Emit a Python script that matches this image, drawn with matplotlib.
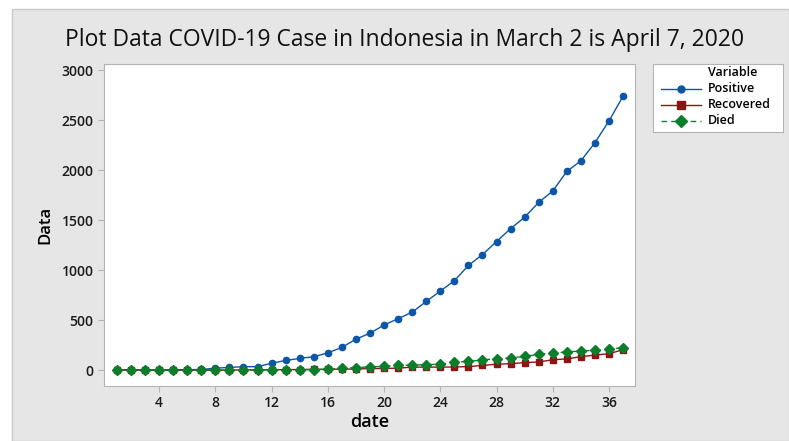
import matplotlib.pyplot as plt
from matplotlib.patches import Rectangle
from matplotlib.lines import Line2D

plt.rcParams['font.family'] = ['Open Sans', 'DejaVu Sans']

# day index, March 2 (1) to April 7 (37)
days = list(range(1, 38))
positive = [2, 2, 2, 2, 4, 4, 6, 19, 27, 34, 34, 69, 96, 117, 134, 172, 227, 309,
            369, 450, 514, 579, 686, 790, 893, 1046, 1155, 1285, 1414, 1528, 1677,
            1790, 1986, 2092, 2273, 2491, 2738]
recovered = [0, 0, 0, 0, 0, 0, 0, 0, 0, 2, 2, 3, 5, 5, 8, 8, 9, 11, 15, 16, 20, 29,
             30, 30, 31, 35, 46, 59, 64, 75, 81, 103, 112, 134, 150, 164, 204]
died = [0, 0, 0, 0, 0, 0, 0, 0, 0, 1, 1, 4, 5, 5, 5, 7, 19, 25, 32, 38, 48, 49,
        55, 58, 78, 87, 102, 114, 122, 136, 157, 170, 181, 191, 198, 209, 225]
x_ticks = [4, 8, 12, 16, 20, 24, 28, 32, 36]
y_ticks = [0, 500, 1000, 1500, 2000, 2500, 3000]

W, H = 789, 441
fig = plt.figure(figsize=(W / 100, H / 100), dpi=100)
fig.patch.set_facecolor('white')
fig.patches.append(Rectangle((12 / W, 0), 1 - 12 / W, 1 - 9 / H, transform=fig.transFigure,
                             facecolor='#e6e6e6', edgecolor='#c8c8c8', lw=1, zorder=-10))

ax = fig.add_axes([104 / W, 1 - 386 / H, (635 - 104) / W, (386 - 64) / H])
ax.set_facecolor('white')

blue = '#0b56a8'
red = '#8e1414'
green = '#0b7d2b'
ax.plot(days, positive, color=blue, lw=1, marker='o', ms=4.5, label='Positive')
ax.plot(days, recovered, color=red, lw=1, marker='s', ms=4.5, label='Recovered')
ax.plot(days, died, color=green, lw=1, ls=(0, (5, 3)), marker='D', ms=5.5, label='Died')

ax.set_xlim(0.08, 37.85)
ax.set_ylim(-159, 3060)
ax.set_xticks(x_ticks)
ax.set_yticks(y_ticks)
for s in ax.spines.values():
    s.set_color('#b4b4b4')
ax.tick_params(colors='#b4b4b4', labelcolor='#1a1a1a', length=4, labelsize=10)
for lab in ax.get_xticklabels() + ax.get_yticklabels():
    lab.set_fontweight('semibold')

ax.set_xlabel('date', fontsize=13, fontweight='semibold', labelpad=2)
ax.set_ylabel('Data', fontsize=12, fontweight='semibold', labelpad=6)
fig.text(405 / W, 1 - 40 / H, 'Plot Data COVID-19 Case in Indonesia in March 2 is April 7, 2020',
         ha='center', va='center', fontsize=16.5, color='#111111')

# legend box
lax = fig.add_axes([653 / W, 1 - 132 / H, (783 - 653) / W, (132 - 64) / H])
lax.set_xlim(0, 130)
lax.set_ylim(68, 0)
lax.set_xticks([])
lax.set_yticks([])
for s in lax.spines.values():
    s.set_color('#b4b4b4')
lax.text(55, 9, 'Variable', fontsize=9, fontweight='semibold', va='center')
entries = [('Positive', blue, '-', 'o', 5), ('Recovered', red, '-', 's', 5.5),
           ('Died', green, (0, (4, 3)), 'D', 6)]
for i, (name, c, ls, m, ms) in enumerate(entries):
    y = 25 + i * 16
    lax.add_line(Line2D([8, 48], [y, y], color=c, lw=1, ls=ls))
    lax.plot([28], [y], marker=m, color=c, ms=ms)
    lax.text(55, y, name, fontsize=9, fontweight='semibold', va='center')

fig.savefig('out.png', dpi=100)
